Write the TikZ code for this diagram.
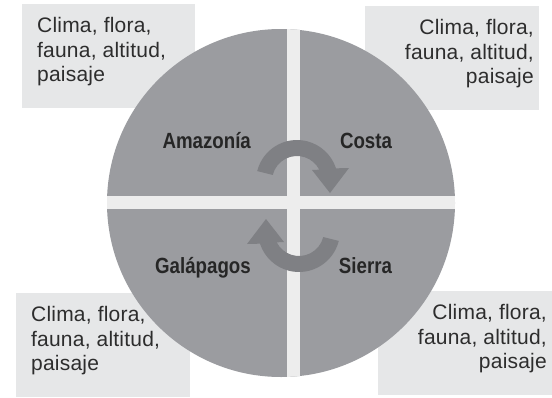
\documentclass[tikz,border=0pt]{standalone}
\usepackage{fontspec}
\setmainfont{Liberation Sans}
\newfontfamily\bodyfont[LetterSpace=1]{Liberation Sans}
\newfontfamily\labelfont[FakeStretch=0.85]{Liberation Sans Bold}
\definecolor{boxgray}{RGB}{230,231,232}
\definecolor{circgray}{RGB}{155,156,160}
\definecolor{gapgray}{RGB}{237,237,237}
\definecolor{arrowgray}{RGB}{127,128,132}
\definecolor{bodygray}{RGB}{45,45,45}
\definecolor{labgray}{RGB}{38,38,38}
\begin{document}
\begin{tikzpicture}[x=1pt,y=-1pt,
  infobox/.style={fill=boxgray},
  txt/.style={inner sep=0pt, text=bodygray, font=\bodyfont\fontsize{21}{24.5}\selectfont},
  lab/.style={inner sep=0pt, text=labgray, font=\labelfont\fontsize{22}{22}\selectfont, anchor=base},
  cyc/.style={fill=arrowgray}]
\useasboundingbox (0,0) rectangle (552,397);
\fill[white] (0,0) rectangle (552,397);
% boxes
\path[infobox] (22,4) rectangle (195,108);
\path[infobox] (365,6) rectangle (539,110);
\path[infobox] (16,293) rectangle (190,397);
\path[infobox] (378,291) rectangle (552,395);
% circle
\fill[circgray] (281,203) circle[radius=174];
\begin{scope}
  \clip (281,203) circle[radius=174];
  \fill[gapgray] (287,0) rectangle (300,397);
  \fill[gapgray] (0,196) rectangle (552,209);
\end{scope}
% cycle arrows
\fill[cyc] (297,181) ++(-166:41) arc[start angle=-166,end angle=-18,radius=41]
  -- (349,168) -- (330,193) -- (312,170) -- ([shift={(-27:25)}]297,181)
  arc[start angle=-27,end angle=-166,radius=25] -- cycle;
\begin{scope}[rotate around={180:(298,206)}]
\fill[cyc] (297,181) ++(-166:41) arc[start angle=-166,end angle=-18,radius=41]
  -- (349,168) -- (330,193) -- (312,170) -- ([shift={(-27:25)}]297,181)
  arc[start angle=-27,end angle=-166,radius=25] -- cycle;
\end{scope}
% labels
\node[lab] (amaz) at (206.7,148) {Amazonía};
\node[lab] (costa) at (366,148) {Costa};
\node[lab] (gala) at (203,273) {Galápagos};
\node[lab] (sierra) at (365.5,273) {Sierra};
% box texts
\node[txt, align=left, anchor=north west] (tl) at (37,17.5) {Clima, flora,\\fauna, altitud,\\paisaje};
\node[txt, align=right, anchor=north east] (tr) at (534,19.5) {Clima, flora,\\fauna, altitud,\\paisaje};
\node[txt, align=left, anchor=north west] (bl) at (31,306.5) {Clima, flora,\\fauna, altitud,\\paisaje};
\node[txt, align=right, anchor=north east] (br) at (547,304.5) {Clima, flora,\\fauna, altitud,\\paisaje};
\end{tikzpicture}
\end{document}
